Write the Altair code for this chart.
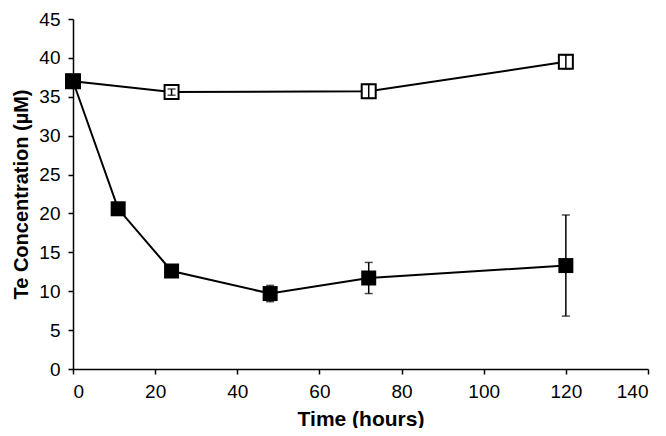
import altair as alt
import pandas as pd

# Treated (filled squares)
t_time = [0, 11, 24, 48, 72, 120]
t_conc = [37.0, 20.6, 12.6, 9.7, 11.7, 13.3]
t_err = [0.0, 0.0, 0.0, 1.05, 2.0, 6.5]

# Control (open squares)
c_time = [0, 24, 72, 120]
c_conc = [37.0, 35.6, 35.7, 39.5]
c_err = [0.0, 0.4, 0.9, 0.9]

x_ticks = [0, 20, 40, 60, 80, 100, 120, 140]
y_ticks = [0, 5, 10, 15, 20, 25, 30, 35, 40, 45]

treated = pd.DataFrame({"time": t_time, "conc": t_conc, "err": t_err})
treated["lo"] = treated["conc"] - treated["err"]
treated["hi"] = treated["conc"] + treated["err"]
control = pd.DataFrame({"time": c_time, "conc": c_conc, "err": c_err})
control["lo"] = control["conc"] - control["err"]
control["hi"] = control["conc"] + control["err"]

FONT = "Liberation Sans"

x_axis = alt.Axis(values=x_ticks, title="Time (hours)", grid=False, labelOverlap=False,
                  domainColor="black", tickColor="black", tickSize=5,
                  labelColor="black", labelFontSize=19, labelFont=FONT,
                  labelPadding=8, titleFont=FONT, titleFontSize=21,
                  titleFontWeight="bold", titleColor="black", titlePadding=7,
                  domainWidth=1.5, tickWidth=1.5)
y_axis = alt.Axis(values=y_ticks, title="Te Concentration (µM)", grid=False, labelOverlap=False,
                  domainColor="black", tickColor="black", tickSize=5,
                  labelColor="black", labelFontSize=19, labelFont=FONT,
                  labelPadding=8, titleFont=FONT, titleFontSize=20,
                  titleFontWeight="bold", titleColor="black", titlePadding=7,
                  domainWidth=1.5, tickWidth=1.5)
xsc = alt.Scale(domain=[0, 140], nice=False)
ysc = alt.Scale(domain=[0, 45], nice=False)

def X(f):
    return alt.X(f"{f}:Q", scale=xsc, axis=x_axis)

def Y(f):
    return alt.Y(f"{f}:Q", scale=ysc, axis=y_axis)

def series(df, filled):
    base = alt.Chart(df)
    line = base.mark_line(color="black", strokeWidth=2).encode(x=X("time"), y=Y("conc"))
    eb = df[df["err"] > 0]
    ebase = alt.Chart(eb)
    rule = ebase.mark_rule(color="black", strokeWidth=1.5).encode(
        x=X("time"), y=Y("lo"), y2="hi:Q")
    cap_lo = ebase.mark_tick(color="black", thickness=1.5, size=8, orient="horizontal").encode(
        x=X("time"), y=Y("lo"))
    cap_hi = ebase.mark_tick(color="black", thickness=1.5, size=8, orient="horizontal").encode(
        x=X("time"), y=Y("hi"))
    if filled:
        pts = base.mark_square(size=225, color="black", filled=True, opacity=1).encode(
            x=X("time"), y=Y("conc"))
        return [line, rule, cap_lo, cap_hi, pts]
    else:
        pts = base.mark_square(size=196, fill="white", stroke="black", strokeWidth=2,
                               filled=True, opacity=1).encode(x=X("time"), y=Y("conc"))
        return [line, pts, rule, cap_lo, cap_hi]

layers = series(control, False) + series(treated, True)

chart = alt.layer(*layers).properties(
    width=575, height=350,
    autosize=alt.AutoSizeParams(type="none"),
    padding={"left": 65, "top": 11, "right": 10, "bottom": 59},
    background="white",
).configure_view(stroke=None)

chart.save("out.html", embed_options={"renderer": "svg", "actions": False})
